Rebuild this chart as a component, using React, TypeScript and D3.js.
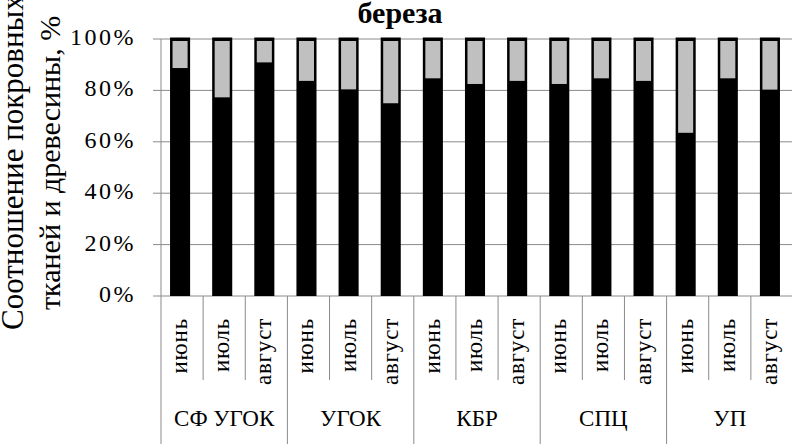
import React from "react";
import * as d3 from "d3";

const sites = ["СФ УГОК", "УГОК", "КБР", "СПЦ", "УП"];
const months = ["июнь", "июль", "август"];
// share of wood (black), remainder = cover tissues (grey), %
const woodShare = [88.7, 77.3, 90.9, 83.7, 80.4, 75.0, 84.7, 82.5, 83.7, 82.5, 84.7, 83.7, 63.5, 84.7, 80.3];
const yTicks = [0, 20, 40, 60, 80, 100];
const title = "береза";
const yLabel1 = "Соотношение покровных";
const yLabel2 = "тканей и древесины, %";

const W = 792;
const H = 444;
const FONT = '"Liberation Serif", "Times New Roman", Tinos, "DejaVu Serif", serif';

export default function App() {
  const keys = d3.range(sites.length * months.length);
  const x = d3.scaleBand<number>().domain(keys).range([161, 793]).paddingInner(0.5).paddingOuter(0.25);
  const slot = d3.scaleBand<number>().domain(keys).range([161, 793]).padding(0);
  const y = d3.scaleLinear().domain([0, 100]).range([296, 39]);
  const bw = x.bandwidth() - 1;
  const ts = { fontFamily: FONT } as React.CSSProperties;

  return (
    <svg width={W} height={H} style={{ position: "absolute", left: 0, top: 0, background: "#fff", fontFamily: FONT }}>
      <rect x={0} y={0} width={W} height={H} fill="#fff" />
      {/* title */}
      <text x={400} y={23} textAnchor="middle" fontSize={30} fontWeight="bold" style={ts}>{title}</text>
      {/* y axis label */}
      <text transform="translate(23,330) rotate(-90)" fontSize={31} textAnchor="start" style={ts}>{yLabel1}</text>
      <text transform="translate(60,310) rotate(-90)" fontSize={30} textAnchor="start" style={ts}>{yLabel2}</text>
      {/* gridlines & ticks */}
      {yTicks.map((t) => (
        <g key={t}>
          <line x1={153} x2={W} y1={y(t)} y2={y(t)} stroke="#8a8a8a" strokeWidth={1} />
          <text x={136} y={y(t) + 6} textAnchor="end" fontSize={24} letterSpacing={2.5} style={ts}>{t + "%"}</text>
        </g>
      ))}
      {/* y axis line */}
      <line x1={161} x2={161} y1={y(100)} y2={H} stroke="#8a8a8a" strokeWidth={1} />
      {/* bars */}
      {woodShare.map((v, i) => {
        const bx = (x(i) as number) - 1.5;
        return (
          <g key={i}>
            <rect x={bx} y={y(100) - 1.5} width={bw} height={y(0) - y(100) + 1.5} fill="#000" />
            <rect x={bx + 2.5} y={y(100) + 2} width={bw - 5} height={y(v) - y(100) - 2} fill="#c0c0c0" />
          </g>
        );
      })}
      {/* x axis: month separators and labels */}
      {keys.map((i) => {
        const s0 = slot(i) as number;
        const cx = s0 + slot.bandwidth() / 2;
        const isGroupStart = i % 3 === 0;
        return (
          <g key={i}>
            {i > 0 && (
              <line x1={s0} x2={s0} y1={y(0)} y2={isGroupStart ? H : 380} stroke="#8a8a8a" strokeWidth={1} />
            )}
            <text transform={`translate(${cx + 5},318) rotate(-90)`} textAnchor="end" fontSize={23} letterSpacing={0.8} style={ts}>
              {months[i % 3]}
            </text>
          </g>
        );
      })}
      {/* group labels */}
      {sites.map((s, g) => {
        const a = slot(g * 3) as number;
        const b = (slot(g * 3 + 2) as number) + slot.bandwidth();
        return (
          <text key={s} x={(a + b) / 2} y={426} textAnchor="middle" fontSize={23} style={ts}>{s}</text>
        );
      })}
    </svg>
  );
}
